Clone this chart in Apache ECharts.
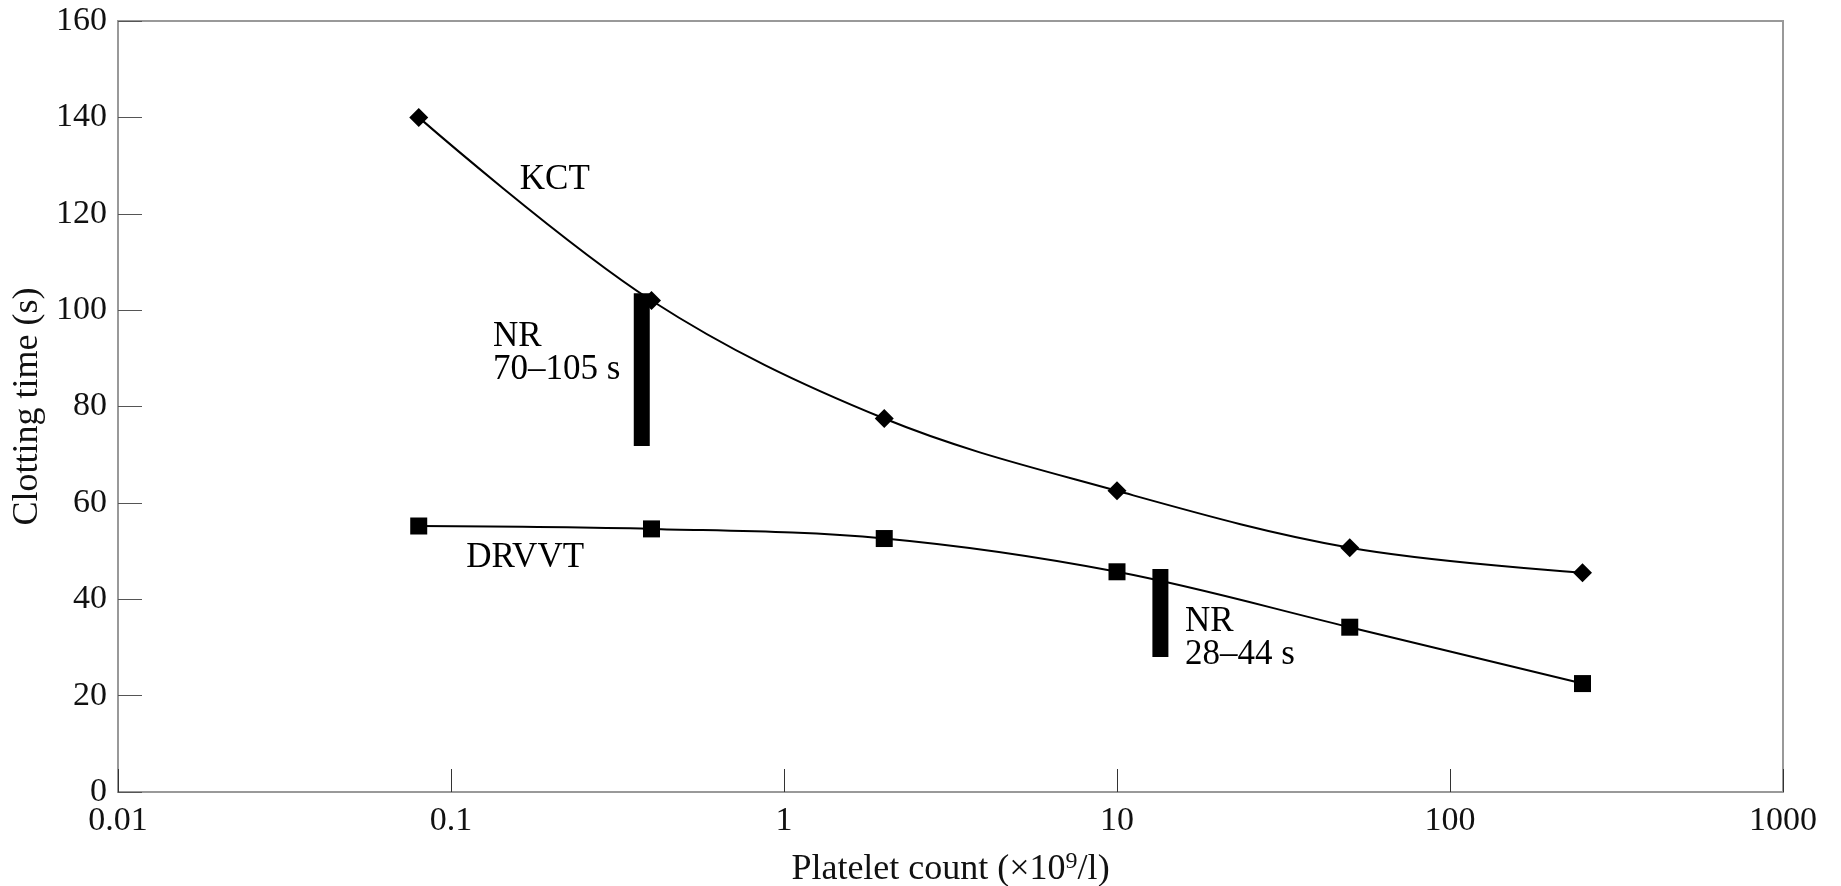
<!DOCTYPE html>
<html>
<head>
<meta charset="utf-8">
<script src="https://cdn.jsdelivr.net/npm/echarts@6/dist/echarts.min.js"></script>
<style>
html,body{margin:0;padding:0;background:#fff;}
#chart{width:1841px;height:886px;}
</style>
</head>
<body>
<div id="chart"></div>
<script>
// ---- data ----
const platelets = [0.08, 0.4, 2, 10, 50, 250];
const kctTimes = [140, 102, 77.5, 62.5, 50.7, 45.5];
const drvvtTimes = [55.2, 54.6, 52.6, 45.7, 34.2, 22.5];
// normal-range bars
const nrX = [0.374, 13.5];
const nrLow = [71.8, 28.0];
const nrHigh = [103.5, 46.3];
// annotation labels: [x, y, text]
const annX = [0.205, 0.1337, 0.167, 16.0];
const annY = [127, 91.1, 48.6, 31.8];
const annText = ['KCT', 'NR\n70–105 s', 'DRVVT', 'NR\n28–44 s'];
const annAlign = ['center', 'left', 'center', 'left'];
const xMin = 0.01, xMax = 1000;
const yMin = 0, yMax = 160, yStep = 20;

const FONT = 'Liberation Serif';
const chart = echarts.init(document.getElementById('chart'), null, {renderer: 'canvas'});

const pair = (xs, ys) => xs.map((x, i) => [x, ys[i]]);

const series = [
  {
    name: 'KCT', type: 'line', smooth: 0.35, data: pair(platelets, kctTimes),
    symbol: 'diamond', symbolSize: 19, showAllSymbol: true,
    lineStyle: {color: '#000', width: 2}, itemStyle: {color: '#000', opacity: 1}, z: 5
  },
  {
    name: 'DRVVT', type: 'line', smooth: 0.35, data: pair(platelets, drvvtTimes),
    symbol: 'rect', symbolSize: 17, showAllSymbol: true,
    lineStyle: {color: '#000', width: 2}, itemStyle: {color: '#000', opacity: 1}, z: 5
  }
];
nrX.forEach((x, i) => {
  series.push({
    type: 'line', data: [[x, nrLow[i]], [x, nrHigh[i]]], symbol: 'none',
    lineStyle: {color: '#000', width: 16, cap: 'butt'}, z: 6, silent: true
  });
});
series.push({
  type: 'scatter', symbolSize: 0, silent: true, z: 7,
  itemStyle: {opacity: 1, color: '#000'},
  data: annX.map((x, i) => ({
    value: [x, annY[i]],
    label: {
      show: true, formatter: annText[i],
      position: annAlign[i] === 'left' ? 'right' : 'inside',
      distance: 0, color: '#000', opacity: 1, fontFamily: FONT, fontSize: 35, lineHeight: 33,
      align: annAlign[i], textBorderWidth: 0
    }
  }))
});

chart.setOption({
  animation: false,
  backgroundColor: '#fff',
  grid: {left: 118, right: 58, top: 21, bottom: 94, containLabel: false, outerBoundsMode: 'none',
    show: true, borderColor: '#999', borderWidth: 2},
  xAxis: {
    type: 'log', logBase: 10, min: xMin, max: xMax,
    axisLine: {show: true, lineStyle: {color: '#999', width: 2}},
    axisTick: {show: true, inside: true, length: 23, lineStyle: {color: '#333', width: 1}},
    minorTick: {show: false}, splitLine: {show: false},
    axisLabel: {color: '#111', fontFamily: FONT, fontSize: 34, margin: 12,
      formatter: v => String(v)},
    name: '{a|Platelet count (×10}{s|9}{a|/l)}', nameLocation: 'middle', nameGap: 58,
    nameTextStyle: {rich: {
      a: {fontFamily: FONT, fontSize: 36, color: '#111', verticalAlign: 'bottom'},
      s: {fontFamily: FONT, fontSize: 24, color: '#111', verticalAlign: 'bottom', padding: [0, 0, 14, 0]}
    }}
  },
  yAxis: {
    type: 'value', min: yMin, max: yMax, interval: yStep,
    axisLine: {show: true, lineStyle: {color: '#999', width: 2}},
    axisTick: {show: true, inside: true, length: 24, lineStyle: {color: '#555', width: 1}},
    splitLine: {show: false},
    axisLabel: {color: '#111', fontFamily: FONT, fontSize: 34, margin: 11},
    name: 'Clotting time (s)', nameLocation: 'middle', nameGap: 59, nameRotate: 90,
    nameTextStyle: {fontFamily: FONT, fontSize: 36, color: '#111'}
  },
  series: series
});
</script>
</body>
</html>
